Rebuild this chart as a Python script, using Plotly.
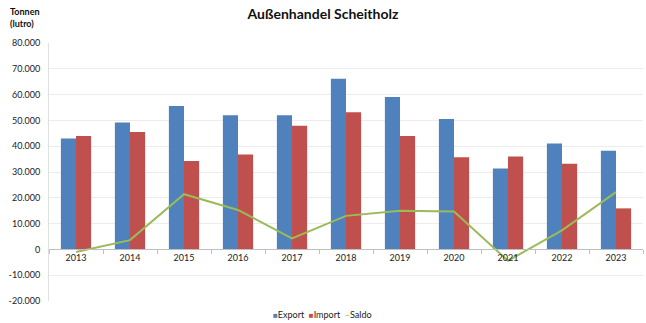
import plotly.graph_objects as go

years = ["2013", "2014", "2015", "2016", "2017", "2018", "2019", "2020", "2021", "2022", "2023"]
export = [43000, 49200, 55600, 52000, 52000, 66100, 59100, 50500, 31400, 41000, 38200]
imports = [44000, 45500, 34300, 36800, 47900, 53200, 44000, 35700, 36000, 33200, 15900]
saldo = [-1000, 3600, 21400, 15300, 4300, 13000, 15000, 14700, -4400, 7400, 22200]

ytickvals = [-20000, -10000, 0, 10000, 20000, 30000, 40000, 50000, 60000, 70000, 80000]
yticktext = ["-20.000", "-10.000", "0", "10.000", "20.000", "30.000", "40.000", "50.000",
             "60.000", "70.000", "80.000"]

FONT = "Lato, 'Open Sans', sans-serif"
W, H = 646, 323
L, R, T, B = 49, 3, 43, 22
PW, PH = W - L - R, H - T - B

C_EXP, C_IMP, C_SAL = "#4F81BD", "#C0504D", "#9BBB59"

fig = go.Figure()
fig.add_trace(go.Bar(x=years, y=export, name="Export", marker_color=C_EXP,
                     marker_line_width=0))
fig.add_trace(go.Bar(x=years, y=imports, name="Import", marker_color=C_IMP,
                     marker_line_width=0))
fig.add_trace(go.Scatter(x=years, y=saldo, name="Saldo", mode="lines",
                         line=dict(color=C_SAL, width=2)))

legend_text = (
    f'<span style="color:{C_EXP};font-size:8px">■</span>Export&nbsp;&nbsp;'
    f'<span style="color:{C_IMP};font-size:8px">■</span>Import&nbsp;&nbsp;'
    f'<span style="color:{C_SAL}">–</span>Saldo'
)

fig.update_layout(
    width=W, height=H,
    margin=dict(l=L, r=R, t=T, b=B, autoexpand=False),
    paper_bgcolor="white", plot_bgcolor="white",
    font=dict(family=FONT, size=9, color="#222"),
    barmode="group", bargap=0.44, bargroupgap=0,
    title=dict(text="<b>Außenhandel Scheitholz</b>", x=0.5, xanchor="center",
               y=1 - 14 / H, yref="container", yanchor="middle",
               font=dict(size=14, color="#111", family=FONT)),
    showlegend=False,
    xaxis=dict(anchor="free", position=0.2, showline=True, linecolor="#bfbfbf",
               linewidth=1, ticks="outside", tickson="boundaries", ticklen=4,
               tickcolor="#bfbfbf", showgrid=False, tickfont=dict(size=9, color="#222"),
               range=[-0.5, 10.5], fixedrange=True),
    yaxis=dict(range=[-20000, 80000], tickvals=ytickvals, ticktext=yticktext,
               showgrid=True, gridcolor="#ececec", gridwidth=1, zeroline=False,
               showline=True, linecolor="#e0e0e0", linewidth=1,
               ticks="", tickfont=dict(size=9, color="#222"), ticklabelstandoff=6),
    annotations=[
        dict(text="<b>Tonnen<br>(lutro)</b>", x=(8 - L) / PW, y=1 + (T - 4) / PH,
             xref="paper", yref="paper",
             showarrow=False, align="left", xanchor="left", yanchor="top",
             font=dict(size=9, color="#111")),
        dict(text=legend_text, x=(322 - L) / PW, y=-(314 - (T + PH)) / PH,
             xref="paper", yref="paper", showarrow=False,
             xanchor="center", yanchor="middle", font=dict(size=9, color="#222")),
    ],
)

fig.write_html("out.html")
